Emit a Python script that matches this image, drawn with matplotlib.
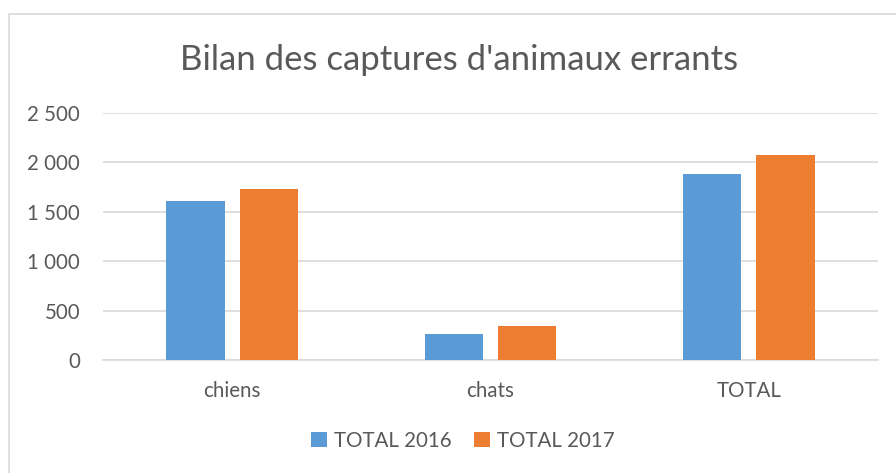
import matplotlib
matplotlib.use("Agg")
import matplotlib.pyplot as plt
from matplotlib.patches import Rectangle
import numpy as np

categories = ["chiens", "chats", "TOTAL"]
series_names = ["TOTAL 2016", "TOTAL 2017"]
values_2016 = [1610, 267, 1880]
values_2017 = [1727, 348, 2075]
yticks = [0, 500, 1000, 1500, 2000, 2500]
ytick_labels = ["0", "500", "1 000", "1 500", "2 000", "2 500"]

colors = ["#5B9BD5", "#ED7D31"]
text_color = "#595959"
grid_color = "#D9D9D9"
plt.rcParams['font.family'] = ['Lato', 'DejaVu Sans']

W, H = 896, 473
fig = plt.figure(figsize=(W / 100, H / 100), dpi=100)
fig.patch.set_facecolor("white")

# outer chart border (left/top visible)
fig.add_artist(Rectangle((9 / W, -0.05), 1.1, (H - 14) / H + 0.05, transform=fig.transFigure,
                         fill=False, edgecolor="#D9D9D9", linewidth=1.2))

left, right = 103, 878
top, bottom = 113, 360
ax = fig.add_axes([left / W, 1 - bottom / H, (right - left) / W, (bottom - top) / H])

x = np.arange(len(categories))
bw = 0.225
off = 0.142
ax.bar(x - off, values_2016, width=bw, color=colors[0], label=series_names[0], zorder=3)
ax.bar(x + off, values_2017, width=bw, color=colors[1], label=series_names[1], zorder=3)

ax.set_xlim(-0.5, 2.5)
ax.set_ylim(0, 2500)
ax.set_yticks(yticks)
ax.set_yticklabels(ytick_labels)
ax.set_xticks(x)
ax.set_xticklabels(categories)
ax.yaxis.grid(True, color=grid_color, linewidth=1.2, zorder=0)
ax.set_axisbelow(True)
for s in ["left", "right", "top"]:
    ax.spines[s].set_visible(False)
ax.spines["bottom"].set_color(grid_color)
ax.spines["bottom"].set_linewidth(1.2)
ax.tick_params(axis="both", length=0, labelsize=14.8, colors=text_color)
ax.tick_params(axis="y", pad=16.5)
ax.tick_params(axis="x", pad=15)

fig.text(459 / W, 1 - 60 / H, "Bilan des captures d'animaux errants", ha="center", va="center",
         fontsize=25, color=text_color)

leg = fig.legend(loc="center", bbox_to_anchor=(463 / W, 1 - 441 / H), ncol=2, frameon=False,
                 fontsize=14.8, handlelength=0.75, handleheight=0.75, columnspacing=1.1,
                 handletextpad=0.35)
for t in leg.get_texts():
    t.set_color(text_color)

fig.savefig("out.png", dpi=100, facecolor="white")
